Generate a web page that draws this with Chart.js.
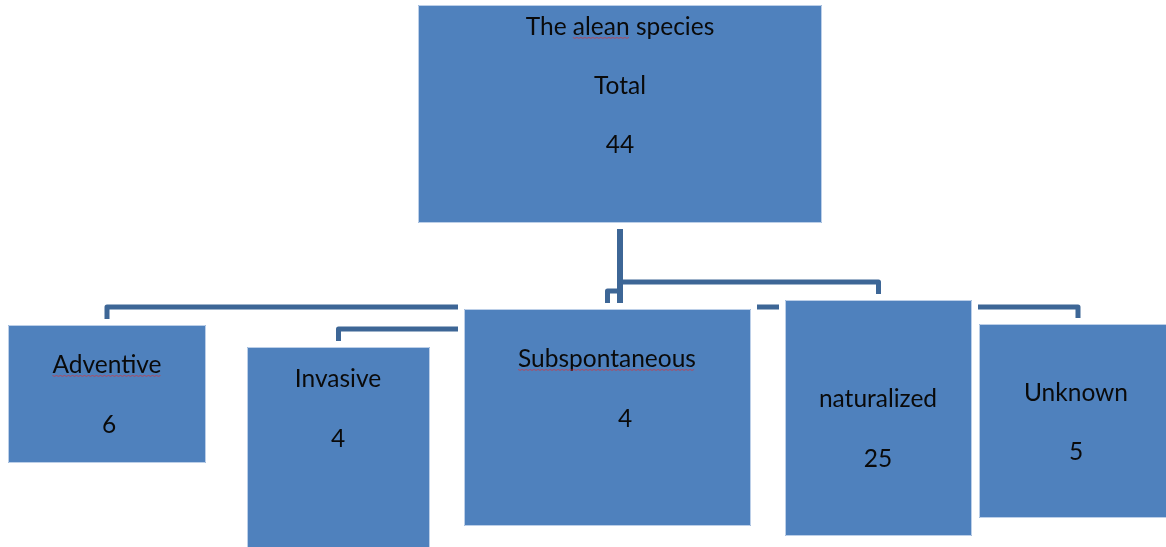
<!DOCTYPE html>
<html>
<head>
<meta charset="utf-8">
<title>The alean species</title>
<script src="https://cdn.jsdelivr.net/npm/chart.js@4/dist/chart.umd.min.js"></script>
<style>
  html, body { margin: 0; padding: 0; background: #ffffff; }
  #wrap { width: 1166px; height: 547px; }
</style>
</head>
<body>
<div id="wrap"><canvas id="tree" width="1166" height="547"></canvas></div>
<script>
// ---- data ----
const rootTitle = "The alean species";
const rootLabel = "Total";
const rootValue = 44;
const categories = ["Adventive", "Invasive", "Subspontaneous", "naturalized", "Unknown"];
const counts = [6, 4, 4, 25, 5];
// words flagged with a spelling underline
const flaggedWords = ["alean", "Adventive", "Subspontaneous"];

// ---- layout (diagram units: x 0..1166, y 0..547 from the top) ----
const rootBox = { x0: 418, x1: 822, y0: 5, y1: 223, lines: [35, 94, 153], cx: 620 };
const childBoxes = [
  { x0: 8,   x1: 206,  y0: 325, y1: 463, labelX: 107, labelY: 373, valueX: 109, valueY: 433 },
  { x0: 247, x1: 430,  y0: 347, y1: 560, labelX: 338, labelY: 387, valueX: 338, valueY: 447 },
  { x0: 464, x1: 751,  y0: 309, y1: 526, labelX: 607, labelY: 367, valueX: 625, valueY: 427 },
  { x0: 785, x1: 972,  y0: 300, y1: 536, labelX: 878, labelY: 407, valueX: 878, valueY: 467 },
  { x0: 979, x1: 1177, y0: 324, y1: 518, labelX: 1076, labelY: 401, valueX: 1076, valueY: 460 }
];
// elbow level of each child's connector
const elbowY = [307, 329, 291, 282, 307];
const trunkX = 620;

const style = {
  fill: "#4f81bd",
  edge: "rgba(200,215,236,0.9)",
  halo: "#ffffff",
  haloWidth: 6,
  link: "#3d6696",
  linkWidth: 5,
  trunkWidth: 6,
  text: "#0a0a0a",
  font: "24.5px Lato, 'Open Sans', sans-serif",
  squiggle: "rgba(200,60,70,0.8)"
};

const orgChartPlugin = {
  id: "orgChart",
  afterDatasetsDraw(chart) {
    const ctx = chart.ctx;
    const xs = chart.scales.x, ys = chart.scales.y;
    const px = v => xs.getPixelForValue(v);
    const py = v => ys.getPixelForValue(v);
    const allBoxes = [rootBox].concat(childBoxes);

    ctx.save();
    // connectors
    ctx.strokeStyle = style.link;
    ctx.lineJoin = "round";
    ctx.lineCap = "butt";
    ctx.lineWidth = style.trunkWidth;
    ctx.beginPath();
    ctx.moveTo(px(trunkX), py(rootBox.y1));
    ctx.lineTo(px(trunkX), py(Math.max.apply(null, elbowY)));
    ctx.stroke();
    ctx.lineWidth = style.linkWidth;
    childBoxes.forEach((b, i) => {
      const cx = (b.x0 + b.x1) / 2;
      ctx.beginPath();
      ctx.moveTo(px(trunkX), py(elbowY[i]));
      ctx.lineTo(px(cx), py(elbowY[i]));
      ctx.lineTo(px(cx), py(b.y0));
      ctx.stroke();
    });

    // white halos, then the boxes on top
    allBoxes.forEach(b => {
      const h = style.haloWidth;
      ctx.fillStyle = style.halo;
      ctx.fillRect(px(b.x0) - h, py(b.y0) - h, px(b.x1) - px(b.x0) + 2 * h, py(b.y1) - py(b.y0) + 2 * h);
    });
    allBoxes.forEach(b => {
      const x = px(b.x0), y = py(b.y0), w = px(b.x1) - x, hgt = py(b.y1) - y;
      ctx.fillStyle = style.fill;
      ctx.fillRect(x, y, w, hgt);
      ctx.strokeStyle = style.edge;
      ctx.lineWidth = 1;
      ctx.strokeRect(x + 0.5, y + 0.5, w - 1, hgt - 1);
    });

    // text
    ctx.font = style.font;
    ctx.fillStyle = style.text;
    ctx.textAlign = "center";
    ctx.textBaseline = "alphabetic";

    const drawText = (str, x, y) => {
      ctx.fillStyle = style.text;
      ctx.fillText(str, px(x), py(y));
      // spelling underline below flagged words
      flaggedWords.forEach(word => {
        const at = str.indexOf(word);
        if (at < 0) return;
        const full = ctx.measureText(str).width;
        const start = px(x) - full / 2 + ctx.measureText(str.slice(0, at)).width;
        const wlen = ctx.measureText(word).width;
        ctx.save();
        ctx.strokeStyle = style.squiggle;
        ctx.lineWidth = 1;
        ctx.beginPath();
        const base = py(y) + 2.5;
        for (let t = 0; t <= wlen; t += 2) {
          const yy = base + ((t / 2) % 2 === 0 ? 0 : 0.8);
          if (t === 0) ctx.moveTo(start + t, yy); else ctx.lineTo(start + t, yy);
        }
        ctx.stroke();
        ctx.restore();
      });
    };

    drawText(rootTitle, rootBox.cx, rootBox.lines[0]);
    drawText(rootLabel, rootBox.cx, rootBox.lines[1]);
    drawText(String(rootValue), rootBox.cx, rootBox.lines[2]);
    childBoxes.forEach((b, i) => {
      drawText(categories[i], b.labelX, b.labelY);
      drawText(String(counts[i]), b.valueX, b.valueY);
    });
    ctx.restore();
  }
};

new Chart(document.getElementById("tree"), {
  type: "scatter",
  data: { datasets: [{ data: [], showLine: false }] },
  options: {
    responsive: false,
    animation: false,
    events: [],
    layout: { padding: 0 },
    plugins: { legend: { display: false }, tooltip: { enabled: false } },
    scales: {
      x: { type: "linear", min: 0, max: 1166, display: false },
      y: { type: "linear", min: 0, max: 547, reverse: true, display: false }
    }
  },
  plugins: [orgChartPlugin]
});
</script>
</body>
</html>
